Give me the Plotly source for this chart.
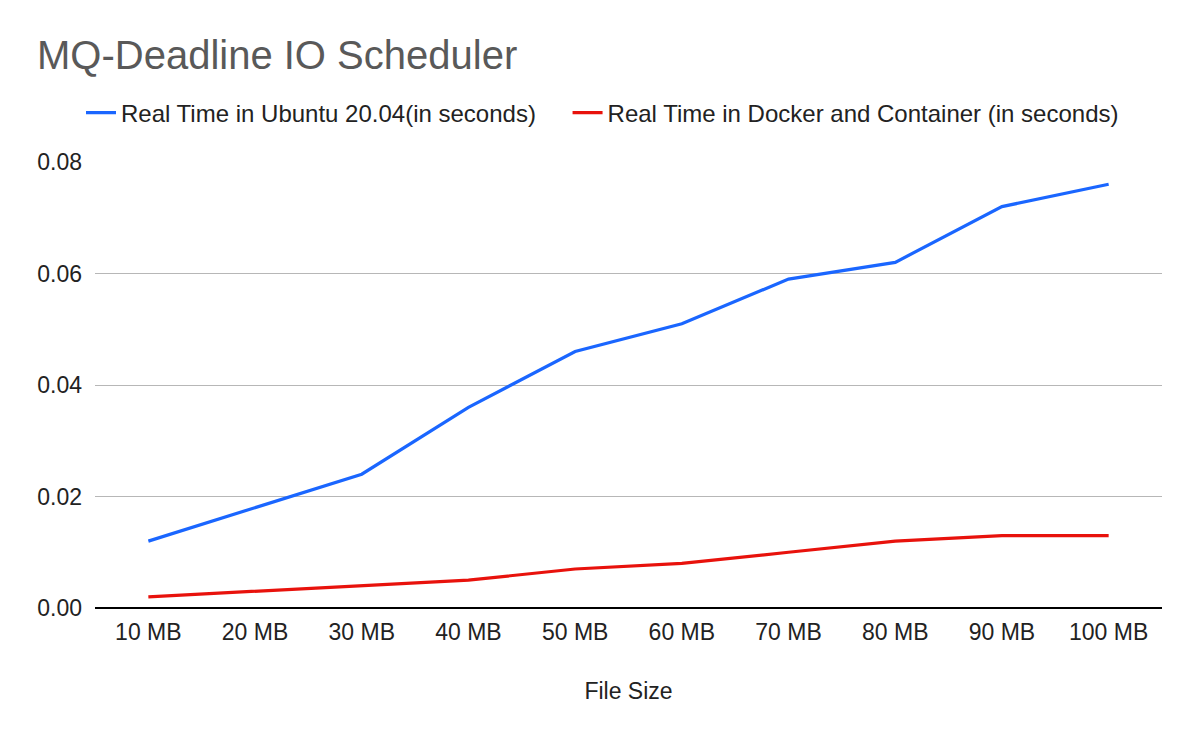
import plotly.graph_objects as go

categories = ["10 MB", "20 MB", "30 MB", "40 MB", "50 MB", "60 MB", "70 MB", "80 MB", "90 MB", "100 MB"]
ubuntu = [0.012, 0.018, 0.024, 0.036, 0.046, 0.051, 0.059, 0.062, 0.072, 0.076]
docker = [0.002, 0.003, 0.004, 0.005, 0.007, 0.008, 0.010, 0.012, 0.013, 0.013]
yticks = [0, 0.02, 0.04, 0.06, 0.08]
series_names = ["Real Time in Ubuntu 20.04(in seconds)",
                "Real Time in Docker and Container (in seconds)"]

FONT = "Liberation Sans, Arial, sans-serif"
OFF = 8  # page body margin
NBSP = "\u00a0"

fig = go.Figure()
fig.add_trace(go.Scatter(x=categories, y=ubuntu, mode="lines",
                         name=series_names[0] + NBSP * 4,
                         line=dict(color="#1a66ff", width=3.2)))
fig.add_trace(go.Scatter(x=categories, y=docker, mode="lines",
                         name=series_names[1],
                         line=dict(color="#e8120c", width=3.2)))

fig.update_layout(
    width=1200, height=742,
    paper_bgcolor="white", plot_bgcolor="white",
    margin=dict(l=95 - OFF, r=1200 - (1162 - OFF), t=162 - OFF, b=742 - (608 - OFF)),
    font=dict(family=FONT, size=23, color="#222222"),
    title=dict(text="MQ-Deadline IO Scheduler", x=(37 - OFF) / 1200, xanchor="left",
               xref="container", y=1 - (55 - OFF) / 742, yanchor="middle", yref="container",
               font=dict(family=FONT, size=40, color="#595959")),
    legend=dict(orientation="h", x=(81 - OFF) / 1200, xref="container", xanchor="left",
                y=1 - (113 - OFF) / 742, yref="container", yanchor="middle",
                font=dict(family=FONT, size=24, color="#222222"),
                itemwidth=30),
    showlegend=True,
    xaxis=dict(type="category", range=[-0.5, 9.5], showgrid=False,
               showline=False, ticks="", tickfont=dict(size=23),
               ticklabelstandoff=8,
               title=dict(text="File Size", font=dict(size=23), standoff=38)),
    yaxis=dict(range=[0, 0.08], tickvals=yticks, tickformat=".2f",
               showgrid=True, gridcolor="#b7b7b7", gridwidth=1,
               zeroline=True, zerolinecolor="#000000", zerolinewidth=2,
               showline=False, ticks="", ticklabelstandoff=12,
               tickfont=dict(size=23)),
)

fig.write_html("out.html")
